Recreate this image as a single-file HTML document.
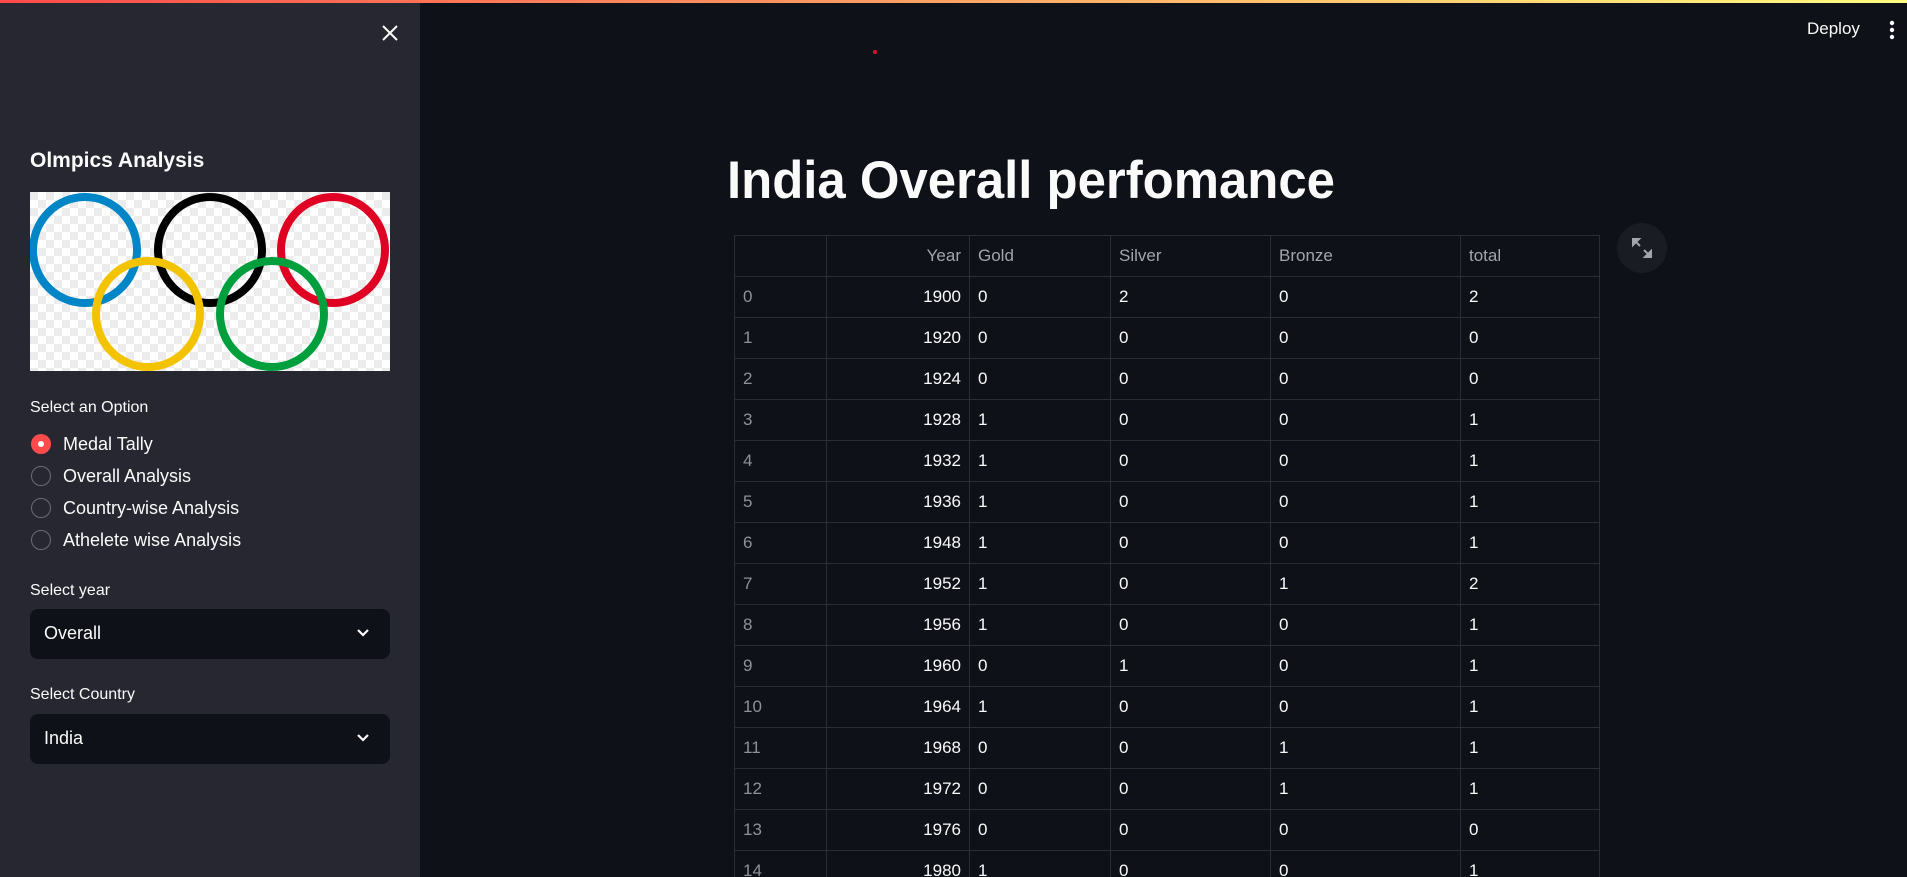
<!DOCTYPE html>
<html style="width:1907px;height:877px;overflow:hidden"><head><meta charset="utf-8"><style>
*{box-sizing:border-box;margin:0;padding:0}
body{width:1907px;height:877px;overflow:hidden;background:#0e1117;font-family:"Liberation Sans",sans-serif;color:#fafafa;position:relative}
.topbar{position:absolute;left:0;top:0;width:1907px;height:3px;background:linear-gradient(90deg,#ff4b4b,#fffd80)}
.sidebar{position:absolute;left:0;top:3px;width:420px;height:874px;background:#262730}
.abs{position:absolute}
.lbl{font-size:16px;color:#fafafa}
.radio{position:absolute;left:31px;width:20px;height:20px;border-radius:50%;border:1.5px solid #6b6d76}
.radio.on{background:#ff4b4b;border:none}
.radio.on::after{content:"";position:absolute;left:7px;top:7px;width:6px;height:6px;border-radius:50%;background:#fff}
.rtext{position:absolute;left:63px;font-size:18px;color:#fafafa}
.dd{position:absolute;left:30px;width:360px;height:50px;background:#0e1117;border-radius:8px}
.dd span{position:absolute;left:14px;top:14px;font-size:18px}
.dd svg{position:absolute;right:20px;top:19px}
.wrap{position:absolute;left:0;top:0;width:1907px;height:877px;overflow:hidden}
table{position:absolute;left:734px;top:235px;border-collapse:collapse;font-size:17px}
td,th{border:1px solid #2a2d36;height:41px;padding:0 8px;font-weight:normal;text-align:left}
th{color:#a3a5ab}
td.idx{color:#8f9198}
.yr{text-align:right}
</style></head><body>
<div class="wrap">
<div class="topbar"></div>
<div class="sidebar">
  <svg class="abs" style="left:380px;top:20px" width="20" height="20"><path d="M3 3L17 17M17 3L3 17" stroke="#fafafa" stroke-width="2"/></svg>
  <div class="abs" style="left:30px;top:146px;font-size:21px;font-weight:bold">Olmpics Analysis</div>
  <svg class="abs" style="left:30px;top:189px" width="360" height="179">
    <defs><pattern id="ck" width="16" height="16" patternUnits="userSpaceOnUse"><rect width="16" height="16" fill="#fff"/><rect width="8" height="8" fill="#ececec"/><rect x="8" y="8" width="8" height="8" fill="#ececec"/></pattern></defs>
    <rect width="360" height="179" fill="url(#ck)"/>
    <g fill="none" stroke-width="8">
      <ellipse cx="55" cy="58" rx="52" ry="53" stroke="#0085c7"/>
      <ellipse cx="180" cy="58" rx="52" ry="53" stroke="#000"/>
      <ellipse cx="303" cy="58" rx="52" ry="53" stroke="#df0024"/>
      <ellipse cx="118" cy="122" rx="52" ry="53" stroke="#f4c300"/>
      <ellipse cx="242" cy="122" rx="52" ry="53" stroke="#009f3d"/>
    </g>
  </svg>
  <div class="abs lbl" style="left:30px;top:396px">Select an Option</div>
  <div class="radio on" style="top:431px"></div>
  <div class="rtext" style="top:431px">Medal Tally</div>
  <div class="radio" style="top:463px"></div>
  <div class="rtext" style="top:463px">Overall Analysis</div>
  <div class="radio" style="top:495px"></div>
  <div class="rtext" style="top:495px">Country-wise Analysis</div>
  <div class="radio" style="top:527px"></div>
  <div class="rtext" style="top:527px">Athelete wise Analysis</div>
  <div class="abs lbl" style="left:30px;top:579px">Select year</div>
  <div class="dd" style="top:606px"><span>Overall</span><svg width="14" height="10"><path d="M2 2L7 7L12 2" stroke="#fafafa" stroke-width="2.2" fill="none"/></svg></div>
  <div class="abs lbl" style="left:30px;top:683px">Select Country</div>
  <div class="dd" style="top:711px"><span>India</span><svg width="14" height="10"><path d="M2 2L7 7L12 2" stroke="#fafafa" stroke-width="2.2" fill="none"/></svg></div>
</div>
<div class="abs" style="left:1807px;top:19px;font-size:17px">Deploy</div>
<svg class="abs" style="left:1888px;top:20px" width="8" height="20"><circle cx="4" cy="3" r="2.2" fill="#fafafa"/><circle cx="4" cy="10" r="2.2" fill="#fafafa"/><circle cx="4" cy="17" r="2.2" fill="#fafafa"/></svg>
<div class="abs" style="left:873px;top:50px;width:4px;height:4px;border-radius:50%;background:#e0102a"></div>
<div class="abs" style="left:727px;top:150px;font-size:53px;font-weight:bold;transform:scaleX(0.96);transform-origin:left top;white-space:nowrap">India Overall perfomance</div>
<div class="abs" style="left:1617px;top:223px;width:50px;height:50px;border-radius:50%;background:#1a1c23">
<svg width="50" height="50"><path d="M16 16h6l-6 6z M34 34h-6l6-6z M18 18l5 5 M32 32l-5-5" stroke="#a3a5ab" fill="#a3a5ab" stroke-width="2"/></svg></div>
<table>
<colgroup><col style="width:92px"><col style="width:143px"><col style="width:141px"><col style="width:160px"><col style="width:190px"><col style="width:139px"></colgroup>
<thead><tr><th></th><th class="yr">Year</th><th>Gold</th><th>Silver</th><th>Bronze</th><th>total</th></tr></thead>
<tbody id="tb"></tbody></table>
</div>
<script>
const years=[1900,1920,1924,1928,1932,1936,1948,1952,1956,1960,1964,1968,1972,1976,1980];
const gold=[0,0,0,1,1,1,1,1,1,0,1,0,0,0,1];
const silver=[2,0,0,0,0,0,0,0,0,1,0,0,0,0,0];
const bronze=[0,0,0,0,0,0,0,1,0,0,0,1,1,0,0];
const total=[2,0,0,1,1,1,1,2,1,1,1,1,1,0,1];
const tb=document.getElementById('tb');
years.forEach((y,i)=>{
  const tr=document.createElement('tr');
  
  
  tr.innerHTML='<td class="idx">'+i+'</td><td class="yr">'+y+'</td><td>'+gold[i]+'</td><td>'+silver[i]+'</td><td>'+bronze[i]+'</td><td>'+total[i]+'</td>';
  tb.appendChild(tr);
});
</script>
</body></html>
